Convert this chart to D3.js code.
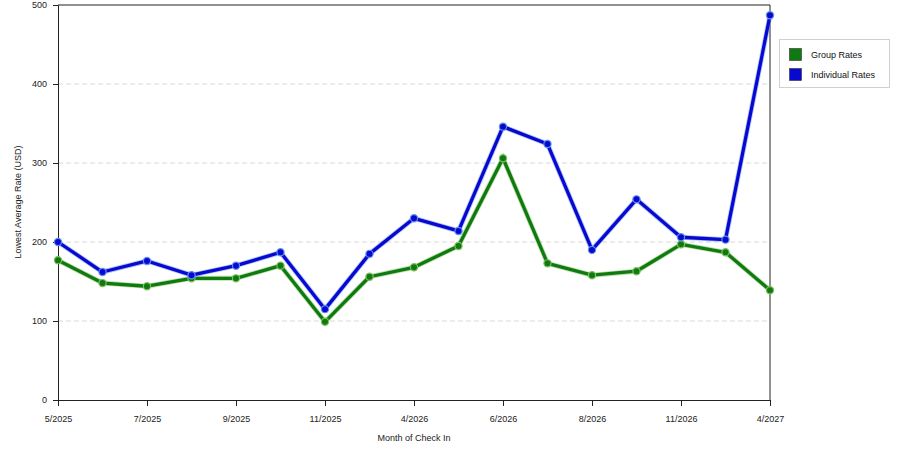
<!DOCTYPE html>
<html><head><meta charset="utf-8">
<script src="https://cdn.jsdelivr.net/npm/d3@7"></script>
<style>body{margin:0;background:#fff;} svg{display:block;font-family:Arial,"Liberation Sans",sans-serif;}</style>
</head><body><svg id="c" width="900" height="450"></svg>
<script>
const months = ["5/2025","6/2025","7/2025","8/2025","9/2025","10/2025","11/2025","12/2025","4/2026","5/2026","6/2026","7/2026","8/2026","10/2026","11/2026","12/2026","4/2027"];
const labeledMonths = ["5/2025","7/2025","9/2025","11/2025","4/2026","6/2026","8/2026","11/2026","4/2027"];
const groupRates = [177,148,144,154,154,170,99,156,168,195,306,173,158,163,197,187,139];
const individualRates = [200,162,176,158,170,187,115,185,230,214,346,324,190,254,206,203,487];
const yTicks = [0,100,200,300,400,500];
const seriesNames = ["Group Rates","Individual Rates"];
const seriesColors = ["#0f7a0f","#0808d0"];
const haloColors = ["#7fbf5f","#5f8fef"];

const svg = d3.select("#c");
const L=58,R=770,T=5,B=400;
const x = d3.scalePoint().domain(months).range([L,R]);
const y = d3.scaleLinear().domain([0,500]).range([B,T]);

// grid
svg.append("g").selectAll("line").data(yTicks.filter(d=>d>0&&d<500)).join("line")
  .attr("x1",L).attr("x2",R).attr("y1",d=>y(d)).attr("y2",d=>y(d))
  .attr("stroke","#d8d8d8").attr("stroke-dasharray","5,3").attr("stroke-width",1);

// frame
svg.append("path").attr("d",`M${L},${T}H${R}V${B}`).attr("fill","none").attr("stroke","#222").attr("stroke-width",1);

const yAxis = svg.append("g").attr("transform",`translate(${L},0)`)
  .call(d3.axisLeft(y).tickValues(yTicks).tickSize(5).tickPadding(6));
const xAxis = svg.append("g").attr("transform",`translate(0,${B})`)
  .call(d3.axisBottom(x).tickValues(labeledMonths).tickSize(6).tickPadding(10));
[yAxis,xAxis].forEach(a=>{
  a.select(".domain").attr("stroke","#222");
  a.selectAll(".tick line").attr("stroke","#222");
  a.selectAll("text").attr("fill","#222").style("font-size","9px").style("font-family","Arial,'Liberation Sans',sans-serif");
});

svg.append("text").attr("transform","translate(21,202) rotate(-90)").attr("text-anchor","middle")
  .style("font-size","9px").attr("fill","#222").text("Lowest Average Rate (USD)");
svg.append("text").attr("x",414).attr("y",441).attr("text-anchor","middle")
  .style("font-size","9px").attr("fill","#222").text("Month of Check In");

const data = [groupRates, individualRates];
const line = d3.line().x((d,i)=>x(months[i])).y(d=>y(d));
data.forEach((vals,k)=>{
  const g = svg.append("g");
  g.append("path").datum(vals).attr("d",line).attr("fill","none")
    .attr("stroke",haloColors[k]).attr("stroke-width",5).attr("stroke-opacity",0.5);
  g.append("path").datum(vals).attr("d",line).attr("fill","none")
    .attr("stroke",seriesColors[k]).attr("stroke-width",3.3).attr("stroke-linejoin","round");
  g.selectAll("circle").data(vals).join("circle")
    .attr("cx",(d,i)=>x(months[i])).attr("cy",d=>y(d)).attr("r",3.6)
    .attr("fill",seriesColors[k]).attr("stroke",haloColors[k]).attr("stroke-width",1.2);
});

// legend
const lg = svg.append("g");
lg.append("rect").attr("x",779.5).attr("y",39.5).attr("width",110).attr("height",48)
  .attr("fill","#fff").attr("stroke","#d0d0d0");
seriesNames.forEach((n,i)=>{
  lg.append("rect").attr("x",789.5).attr("y",48.5+i*20).attr("width",12).attr("height",12)
    .attr("fill",seriesColors[i]).attr("stroke","#333").attr("stroke-width",0.6);
  lg.append("text").attr("x",811).attr("y",58+i*20).style("font-size","9px").attr("fill","#111").text(n);
});
</script></body></html>
